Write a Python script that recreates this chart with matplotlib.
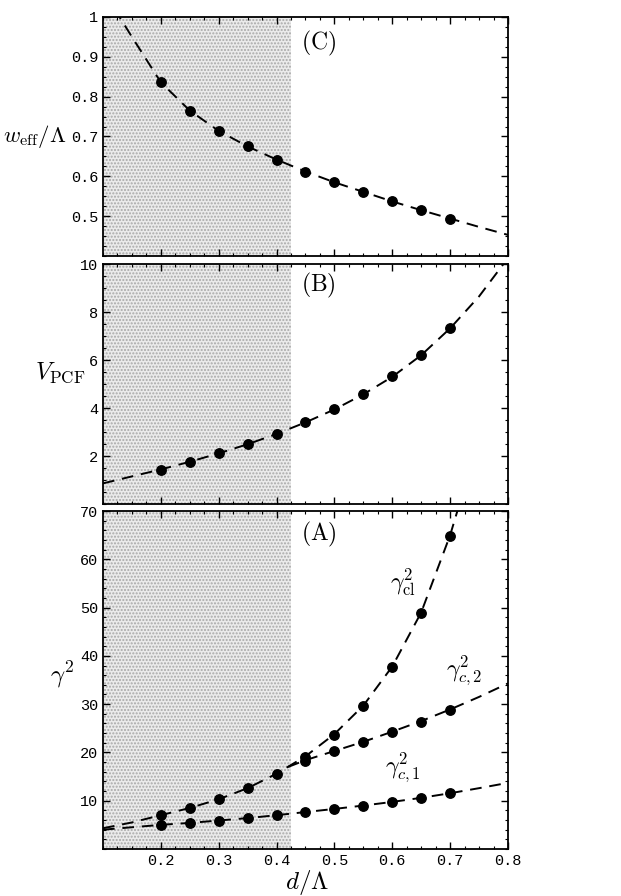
import matplotlib
matplotlib.use("Agg")
import matplotlib.pyplot as plt
from matplotlib.ticker import FixedLocator, MultipleLocator, FixedFormatter

plt.rcParams['mathtext.fontset'] = 'cm'
plt.rcParams['hatch.linewidth'] = 1.0

# ---------------- data ----------------
d_pts = [0.2, 0.25, 0.3, 0.35, 0.4, 0.45, 0.5, 0.55, 0.6, 0.65, 0.7]

# Panel C: w_eff / Lambda
weff_pts = [0.836, 0.765, 0.714, 0.675, 0.642, 0.612, 0.585, 0.560, 0.537, 0.515, 0.494]
weff_curve_x = [0.12, 0.15, 0.2, 0.25, 0.3, 0.35, 0.4, 0.45, 0.5, 0.55, 0.6, 0.65, 0.7, 0.75, 0.8]
weff_curve_y = [1.02, 0.950, 0.836, 0.765, 0.714, 0.675, 0.642, 0.612, 0.585, 0.561, 0.537, 0.515, 0.494, 0.473, 0.453]

# Panel B: V_PCF
v_pts = [1.43, 1.76, 2.11, 2.49, 2.93, 3.40, 3.94, 4.57, 5.32, 6.20, 7.32]
v_curve_x = [0.1, 0.15, 0.2, 0.25, 0.3, 0.35, 0.4, 0.45, 0.5, 0.55, 0.6, 0.65, 0.7, 0.75, 0.8]
v_curve_y = [0.86, 1.15, 1.44, 1.76, 2.11, 2.49, 2.92, 3.40, 3.94, 4.57, 5.30, 6.20, 7.32, 8.65, 10.25]

# Panel A: gamma^2
gcl_pts = [7.0, 8.4, 10.3, 12.6, 15.5, 19.1, 23.7, 29.6, 37.7, 48.9, 64.8]
gc1_pts = [5.0, 5.4, 5.9, 6.4, 7.1, 7.65, 8.3, 9.0, 9.7, 10.6, 11.5]
gc2_d = [0.45, 0.5, 0.55, 0.6, 0.65, 0.7]
gc2_pts = [18.3, 20.2, 22.1, 24.2, 26.4, 28.8]

gcl_curve_x = [0.1, 0.15, 0.2, 0.25, 0.3, 0.35, 0.4, 0.45, 0.5, 0.55, 0.6, 0.65, 0.7, 0.72]
gcl_curve_y = [4.3, 5.5, 7.0, 8.5, 10.3, 12.6, 15.6, 19.2, 23.8, 29.7, 37.8, 49.0, 65.0, 73.0]
gc1_curve_x = [0.1, 0.15, 0.2, 0.25, 0.3, 0.35, 0.4, 0.45, 0.5, 0.55, 0.6, 0.65, 0.7, 0.75, 0.8]
gc1_curve_y = [4.0, 4.5, 5.0, 5.4, 5.9, 6.4, 7.0, 7.65, 8.3, 9.0, 9.75, 10.6, 11.55, 12.6, 13.7]
gc2_curve_x = [0.42, 0.45, 0.5, 0.55, 0.6, 0.65, 0.7, 0.75, 0.8]
gc2_curve_y = [17.0, 18.4, 20.3, 22.2, 24.3, 26.5, 28.9, 31.5, 34.3]

shade_limit = 0.425
x_ticks = [0.2, 0.3, 0.4, 0.5, 0.6, 0.7, 0.8]

# ---------------- figure ----------------
W, H = 621, 896
fig = plt.figure(figsize=(W / 100, H / 100), dpi=100)

left = 103 / W
width = (508 - 103) / W
def rect(top_px, bot_px):
    return [left, 1 - bot_px / H, width, (bot_px - top_px) / H]

axC = fig.add_axes(rect(17, 256))
axB = fig.add_axes(rect(264, 504))
axA = fig.add_axes(rect(511, 849))

mono = 'Liberation Mono'
dash = (0, (6, 4))
lw = 1.4
ms = 6.8

for ax in (axC, axB, axA):
    ax.set_xlim(0.1, 0.8)
    ax.axvspan(0.1, shade_limit, facecolor='#ebebeb', edgecolor='#a8a8a8',
               hatch='.....', linewidth=0, zorder=0)
    ax.xaxis.set_major_locator(FixedLocator(x_ticks))
    ax.xaxis.set_minor_locator(MultipleLocator(0.025))
    ax.tick_params(which='both', direction='in', top=True, right=True)
    ax.tick_params(which='major', length=5, width=1.0, labelsize=11, pad=3.5)
    ax.tick_params(which='minor', length=2.5, width=0.8)
    for s in ax.spines.values():
        s.set_linewidth(1.3)
    if ax is not axA:
        ax.tick_params(labelbottom=False)

# Panel C
axC.plot(weff_curve_x, weff_curve_y, color='black', lw=lw, linestyle=dash, zorder=2)
axC.plot(d_pts, weff_pts, 'o', color='black', ms=ms, zorder=3)
axC.set_ylim(0.4, 1.0)
axC.yaxis.set_major_locator(FixedLocator([0.5, 0.6, 0.7, 0.8, 0.9, 1.0]))
axC.yaxis.set_major_formatter(FixedFormatter(['0.5', '0.6', '0.7', '0.8', '0.9', '1']))
axC.yaxis.set_minor_locator(MultipleLocator(0.025))
axC.text(0.49, 0.89, r'$\mathrm{(C)}$', transform=axC.transAxes, fontsize=17,
         ha='left', va='center')

# Panel B
axB.plot(v_curve_x, v_curve_y, color='black', lw=lw, linestyle=dash, zorder=2)
axB.plot(d_pts, v_pts, 'o', color='black', ms=ms, zorder=3)
axB.set_ylim(0, 10)
axB.yaxis.set_major_locator(FixedLocator([2, 4, 6, 8, 10]))
axB.yaxis.set_minor_locator(MultipleLocator(0.5))
axB.text(0.49, 0.91, r'$\mathrm{(B)}$', transform=axB.transAxes, fontsize=17,
         ha='left', va='center')

# Panel A
axA.plot(gcl_curve_x, gcl_curve_y, color='black', lw=lw, linestyle=dash, zorder=2)
axA.plot(gc1_curve_x, gc1_curve_y, color='black', lw=lw, linestyle=dash, zorder=2)
axA.plot(gc2_curve_x, gc2_curve_y, color='black', lw=lw, linestyle=dash, zorder=2)
axA.plot(d_pts, gcl_pts, 'o', color='black', ms=ms, zorder=3)
axA.plot(d_pts, gc1_pts, 'o', color='black', ms=ms, zorder=3)
axA.plot(gc2_d, gc2_pts, 'o', color='black', ms=ms, zorder=3)
axA.set_ylim(0, 70)
axA.yaxis.set_major_locator(FixedLocator([10, 20, 30, 40, 50, 60, 70]))
axA.yaxis.set_minor_locator(MultipleLocator(2))
axA.text(0.49, 0.93, r'$\mathrm{(A)}$', transform=axA.transAxes, fontsize=17,
         ha='left', va='center')
axA.text(0.619, 55.3, r'$\gamma^2_{\mathrm{cl}}$', fontsize=17, ha='center', va='center')
axA.text(0.724, 37.1, r'$\gamma^2_{c,2}$', fontsize=17, ha='center', va='center')
axA.text(0.619, 17.0, r'$\gamma^2_{c,1}$', fontsize=17, ha='center', va='center')

# axis labels placed in figure pixels
def ftext(xpx, ypx, s, size=18, **kw):
    fig.text(xpx / W, 1 - ypx / H, s, fontsize=size, va='center', **kw)

ftext(3, 136, r'$w_{\mathrm{eff}}/\Lambda$', size=16.5, ha='left')
ftext(60, 373, r'$V_{\mathrm{PCF}}$', size=17.5, ha='center')
ftext(62, 675, r'$\gamma^2$', ha='center')
ftext(307, 882, r'$d/\Lambda$', ha='center')

for ax in (axC, axB, axA):
    for lab in ax.get_xticklabels() + ax.get_yticklabels():
        lab.set_fontfamily(mono)

fig.savefig('out.png', dpi=100)
